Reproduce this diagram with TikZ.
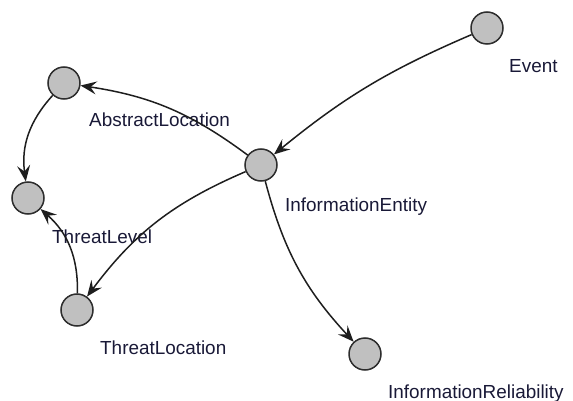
\documentclass[tikz,border=0pt]{standalone}
\usepackage{fontspec}
\setmainfont{Liberation Sans}
\usetikzlibrary{arrows.meta}
\definecolor{nodefill}{RGB}{192,192,192}
\definecolor{nodeline}{RGB}{45,45,45}
\definecolor{edgeline}{RGB}{30,30,30}
\definecolor{labeltext}{RGB}{25,25,55}
\tikzset{
  vertex/.style={circle, minimum size=32pt, inner sep=0pt, fill=nodefill, draw=nodeline, line width=1.5pt},
  vlabel/.style={anchor=base west, inner sep=0pt, text=labeltext, font=\fontsize{18.9}{22}\selectfont},
  link/.style={draw=edgeline, line width=1.5pt, -{Stealth[length=16pt,width=13pt,inset=6pt]}},
}
\begin{document}
\begin{tikzpicture}[x=1pt,y=-1pt]
  \useasboundingbox (0,0) rectangle (573,401);
  % vertices
  \node[vertex] (event) at (487,28) {};
  \node[vertex] (abstract) at (64,83) {};
  \node[vertex] (entity) at (261,165) {};
  \node[vertex] (level) at (28,198) {};
  \node[vertex] (tloc) at (77,310) {};
  \node[vertex] (reliab) at (365,354) {};
  % labels
  \node[vlabel] (lEvent) at (509,73) {Event};
  \node[vlabel] (lAbstract) at (89,127) {AbstractLocation};
  \node[vlabel] (lEntity) at (285,211) {InformationEntity};
  \node[vlabel] (lLevel) at (52,243) {ThreatLevel};
  \node[vlabel] (lTloc) at (100,354) {ThreatLocation};
  \node[vlabel] (lReliab) at (388,398) {InformationReliability};
  % relations
  \draw[link] (event) to[bend right=8] (entity);
  \draw[link] (entity) to[bend right=14] (abstract);
  \draw[link] (abstract) to[bend right=25] (level);
  \draw[link] (tloc) to[bend right=25] (level);
  \draw[link] (entity) to[bend right=15] (tloc);
  \draw[link] (entity) to[bend right=14] (reliab);
\end{tikzpicture}
\end{document}
